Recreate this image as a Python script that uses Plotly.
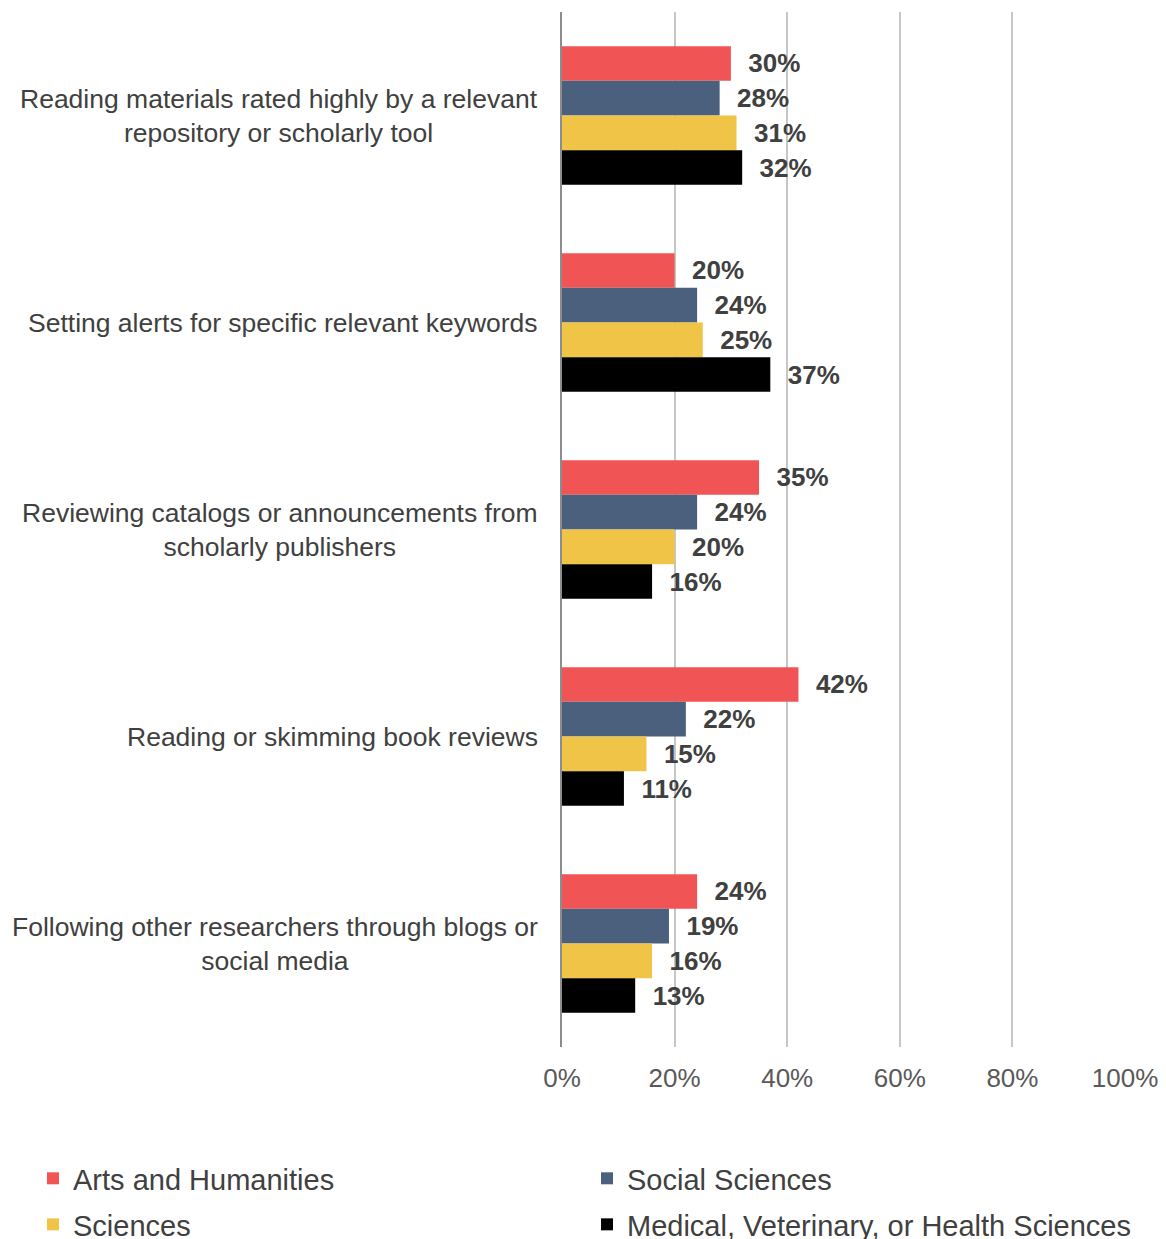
import plotly.graph_objects as go

categories = [
    "Reading materials rated highly by a relevant<br>repository or scholarly tool",
    "Setting alerts for specific relevant keywords",
    "Reviewing catalogs or announcements from<br>scholarly publishers",
    "Reading or skimming book reviews",
    "Following other researchers through blogs or<br>social media",
]
series_names = ["Arts and Humanities", "Social Sciences", "Sciences",
                "Medical, Veterinary, or Health Sciences"]
arts = [30, 20, 35, 42, 24]
social = [28, 24, 24, 22, 19]
sciences = [31, 25, 20, 15, 16]
medical = [32, 37, 16, 11, 13]
colors = ["#F05454", "#4B607C", "#F0C447", "#000000"]

FONT = "Liberation Sans, Arial, sans-serif"
NB = "\u00a0"

# one legend per entry so the 2x2 grid sits exactly where the reference has it
legend_ids = ["legend", "legend2", "legend3", "legend4"]
legend_pos = [(0.0216, 0.0699), (0.5, 0.0699), (0.0216, 0.0325), (0.5, 0.0325)]

fig = go.Figure()
for name, vals, col, lg in zip(series_names, [arts, social, sciences, medical],
                               colors, legend_ids):
    fig.add_trace(go.Bar(
        y=categories, x=vals, name=name, orientation="h", legend=lg,
        marker=dict(color=col, line=dict(width=0)),
        text=[f"{NB}{NB}{v}%" for v in vals],
        textposition="outside", constraintext="none", cliponaxis=False,
        textfont=dict(family=FONT, size=26, color="#404040", weight="bold"),
    ))

# category labels as centred annotations
for c in categories:
    fig.add_annotation(
        x=0, xref="paper", y=c, yref="y", text=c, showarrow=False,
        xanchor="right", xshift=-22, align="center",
        font=dict(family=FONT, size=26.5, color="#404040"),
    )

legends = {}
for lg, (lx, ly) in zip(legend_ids, legend_pos):
    legends[lg] = dict(
        orientation="h", xref="container", yref="container",
        x=lx, y=ly, xanchor="left", yanchor="top",
        font=dict(family=FONT, size=29, color="#404040"),
        itemwidth=30,
    )

fig.update_layout(
    width=1158, height=1231,
    margin=dict(l=554, r=41, t=4, b=192, autoexpand=False),
    plot_bgcolor="white", paper_bgcolor="white",
    barmode="group", bargap=0.33, bargroupgap=0,
    font=dict(family=FONT),
    showlegend=True,
    **legends,
)
fig.update_xaxes(
    range=[0, 100], tickvals=[0, 20, 40, 60, 80, 100],
    ticktext=["0%", "20%", "40%", "60%", "80%", "100%"],
    showgrid=True, gridcolor="#c6c6c6", gridwidth=2, zeroline=False,
    ticks="outside", ticklen=8, tickcolor="rgba(0,0,0,0)",
    tickfont=dict(family=FONT, size=26, color="#595959"),
)
fig.update_yaxes(
    categoryorder="array", categoryarray=categories, autorange="reversed",
    showticklabels=False, showline=True, linecolor="#8c8c8c", linewidth=2,
    showgrid=False, zeroline=False,
)

fig.write_html("out.html")
